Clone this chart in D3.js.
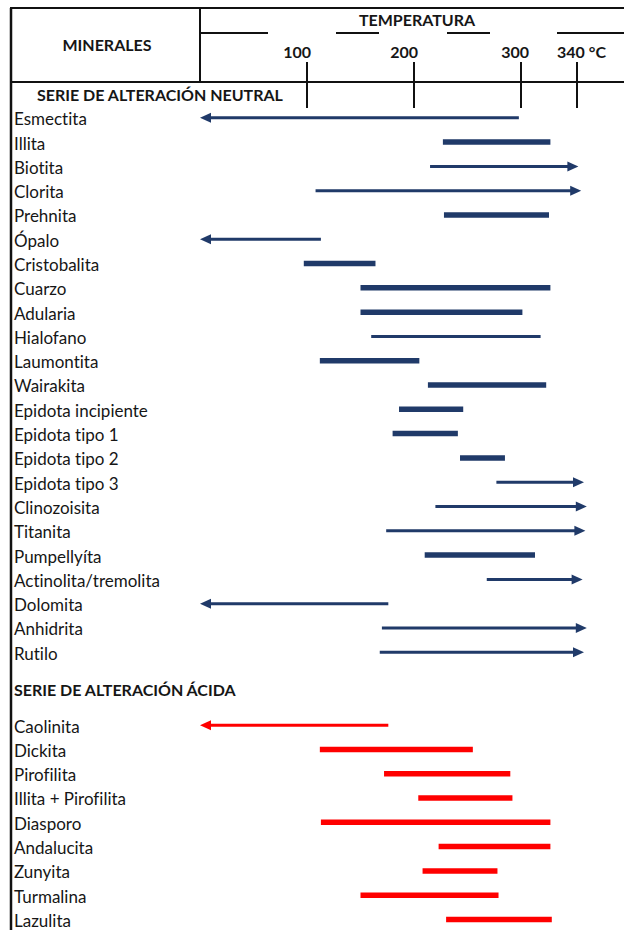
<!DOCTYPE html>
<html>
<head>
<meta charset="utf-8">
<script src="https://cdn.jsdelivr.net/npm/d3@7"></script>
<style>
  body { margin: 0; background: #fff; }
  svg { display: block; }
  text { font-family: Lato, "Open Sans", sans-serif; fill: #161616; font-variant-ligatures: none; }
</style>
</head>
<body>
<svg id="chart" width="624" height="930"></svg>
<script>
// Temperature ranges of hydrothermal alteration minerals (°C).
// openEnd: "left" = stable down to low temperature, "right" = stable above 340 °C.
const neutralMinerals = ["Esmectita", "Illita", "Biotita", "Clorita", "Prehnita", "Ópalo",
  "Cristobalita", "Cuarzo", "Adularia", "Hialofano", "Laumontita", "Wairakita",
  "Epidota incipiente", "Epidota tipo 1", "Epidota tipo 2", "Epidota tipo 3", "Clinozoisita",
  "Titanita", "Pumpellyíta", "Actinolita/tremolita", "Dolomita", "Anhidrita", "Rutilo"];
const neutralFrom = [0, 227, 215, 108, 228, 0, 97, 150, 150, 160, 112, 213, 186, 180, 243, 277, 220, 174, 210, 268, 0, 170, 168];
const neutralTo   = [298, 321, 341, 343, 320, 113, 164, 321, 301, 314, 205, 318, 246, 241, 285, 345, 347, 346, 310, 344, 176, 347, 345];
const neutralOpen = ["left", "", "right", "right", "", "left", "", "", "", "", "", "", "", "", "", "right", "right", "right", "", "right", "left", "right", "right"];

const acidMinerals = ["Caolinita", "Dickita", "Pirofilita", "Illita + Pirofilita", "Diasporo",
  "Andalucita", "Zunyita", "Turmalina", "Lazulita"];
const acidFrom = [0, 112, 172, 204, 113, 223, 208, 150, 230];
const acidTo   = [176, 255, 290, 292, 321, 321, 278, 279, 322];
const acidOpen = ["left", "", "", "", "", "", "", "", ""];

const tickValues = [100, 200, 300, 340];
const tickLabels = ["100", "200", "300", "340 °C"];

const sections = [
  { title: "SERIE DE ALTERACIÓN NEUTRAL", names: neutralMinerals, from: neutralFrom, to: neutralTo, open: neutralOpen, color: "#203a69" },
  { title: "SERIE DE ALTERACIÓN ÁCIDA", names: acidMinerals, from: acidFrom, to: acidTo, open: acidOpen, color: "#ff0000" }
];

// Bars drawn thinner than the rest
const thinBars = new Set(["Hialofano"]);

const svg = d3.select("#chart");
const W = 624;
const frameTop = 8, headBottom = 82, leftEdge = 11, divider = 200;
const headFont = 16, nameFont = 17;

// Table column is not evenly spaced above 300 °C, so the scale is piecewise.
const x = d3.scaleLinear().domain([0, 100, 200, 300, 340]).range([200, 307, 414, 521, 577]);

// Row slots: section title, its minerals, a half-row gap, next title...
const rows = [];
let slot = 0;
sections.forEach((s, si) => {
  if (si > 0) slot += 0.5;
  rows.push({ kind: "title", text: s.title, slot, si });
  slot += 1;
  if (si > 0) slot += 0.5;
  s.names.forEach((n, i) => {
    rows.push({ kind: "mineral", name: n, from: s.from[i], to: s.to[i], open: s.open[i], color: s.color, slot, si });
    slot += 1;
  });
});
const y = d3.scaleLinear().domain([0, 34]).range([95, 921]);

// ---- Table frame ----
const frame = svg.append("g").attr("stroke", "#111").attr("fill", "none");
frame.append("line").attr("x1", leftEdge - 1).attr("x2", W).attr("y1", frameTop).attr("y2", frameTop).attr("stroke-width", 2);
frame.append("line").attr("x1", leftEdge).attr("x2", leftEdge).attr("y1", frameTop).attr("y2", 930).attr("stroke-width", 2.5);
frame.append("line").attr("x1", divider).attr("x2", divider).attr("y1", frameTop).attr("y2", headBottom).attr("stroke-width", 2);
frame.append("line").attr("x1", leftEdge - 1).attr("x2", W).attr("y1", headBottom).attr("y2", headBottom).attr("stroke-width", 2);
frame.append("line").attr("x1", divider).attr("x2", W).attr("y1", 33).attr("y2", 33)
  .attr("stroke-width", 2).attr("stroke-dasharray", "68 68 43 68 43 67 67");

svg.append("text").attr("x", 107).attr("y", 45).attr("dy", "0.35em")
  .attr("text-anchor", "middle").attr("font-weight", 700).attr("font-size", headFont).text("MINERALES");
svg.append("text").attr("x", 417).attr("y", 20).attr("dy", "0.35em")
  .attr("text-anchor", "middle").attr("font-weight", 700).attr("font-size", headFont).text("TEMPERATURA");

// ---- Temperature ticks ----
const ticks = svg.append("g");
ticks.selectAll("line").data(tickValues).join("line")
  .attr("x1", d => x(d)).attr("x2", d => x(d))
  .attr("y1", 62).attr("y2", 108)
  .attr("stroke", "#111").attr("stroke-width", 2);
ticks.selectAll("text").data(tickValues).join("text")
  .attr("x", d => x(d))
  .attr("dx", (d, i) => i === tickValues.length - 1 ? -20 : (d === 300 ? 8 : 4))
  .attr("y", 52).attr("dy", "0.35em")
  .attr("text-anchor", (d, i) => i === tickValues.length - 1 ? "start" : "end")
  .attr("font-weight", 700).attr("font-size", headFont)
  .text((d, i) => tickLabels[i]);

// ---- Rows ----
const g = svg.append("g");
const titles = rows.filter(r => r.kind === "title");
g.selectAll("text.title").data(titles).join("text").attr("class", "title")
  .attr("x", r => r.si === 0 ? 37 : 14)
  .attr("y", r => y(r.slot)).attr("dy", "0.35em")
  .attr("font-weight", 700).attr("font-size", headFont)
  .text(r => r.text);

const minerals = rows.filter(r => r.kind === "mineral");
g.selectAll("text.name").data(minerals).join("text").attr("class", "name")
  .attr("x", 14).attr("y", r => y(r.slot)).attr("dy", "0.35em")
  .attr("font-size", nameFont)
  .text(r => r.name);

const headLen = 11, headHalf = 5;
const marks = g.selectAll("g.range").data(minerals).join("g").attr("class", "range");
marks.append("line")
  .attr("x1", r => x(r.from) + (r.open === "left" ? headLen - 1 : 0))
  .attr("x2", r => x(r.to) - (r.open === "right" ? headLen - 1 : 0))
  .attr("y1", r => y(r.slot) - 1.5).attr("y2", r => y(r.slot) - 1.5)
  .attr("stroke", r => r.color)
  .attr("stroke-width", r => r.open ? 3 : (thinBars.has(r.name) ? 3 : 5.5));
marks.filter(r => r.open).append("path")
  .attr("fill", r => r.color)
  .attr("d", r => {
    const cy = y(r.slot) - 1.5;
    if (r.open === "right") {
      const tip = x(r.to);
      return `M${tip},${cy}L${tip - headLen},${cy - headHalf}L${tip - headLen},${cy + headHalf}Z`;
    }
    const tip = x(r.from);
    return `M${tip},${cy}L${tip + headLen},${cy - headHalf}L${tip + headLen},${cy + headHalf}Z`;
  });
</script>
</body>
</html>
